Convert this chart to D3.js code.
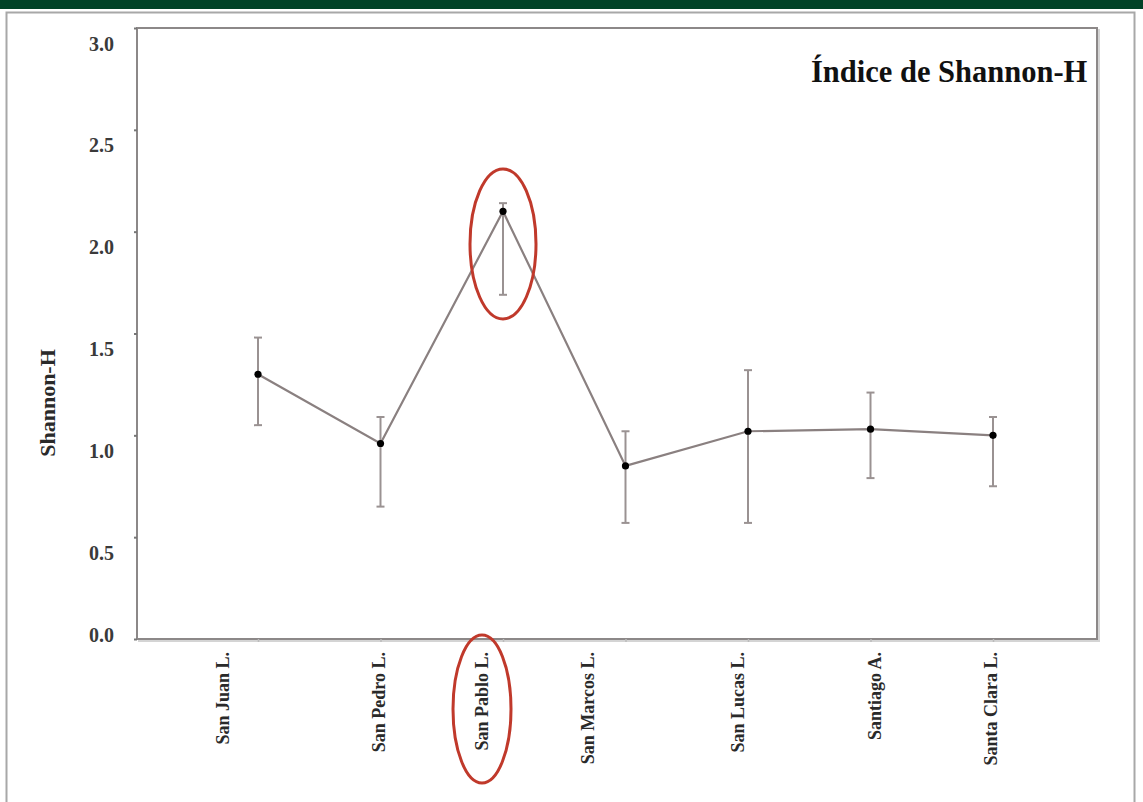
<!DOCTYPE html>
<html>
<head>
<meta charset="utf-8">
<script src="https://cdn.jsdelivr.net/npm/d3@7"></script>
<style>
  body { margin: 0; background: #fff; }
  svg { display: block; font-family: "Liberation Serif", "Times New Roman", serif; }
</style>
</head>
<body>
<div id="chart"></div>
<script>
// sites along the x axis
var sites = ["San Juan L.", "San Pedro L.", "San Pablo L.", "San Marcos L.", "San Lucas L.", "Santiago A.", "Santa Clara L."];
// Shannon-H mean and error bar ends
var meanH = [1.30, 0.96, 2.10, 0.85, 1.02, 1.03, 1.00];
var upperH = [1.48, 1.09, 2.14, 1.02, 1.32, 1.21, 1.09];
var lowerH = [1.05, 0.65, 1.69, 0.57, 0.57, 0.79, 0.75];
var yTicks = [0, 0.5, 1.0, 1.5, 2.0, 2.5, 3.0];
var highlight = "San Pablo L.";

// small shifts of the rotated labels, as in the scanned figure
var labelNudge = [-35, -2, -21, -38, -10, 4, -2];

var serif = '"Liberation Serif", "Times New Roman", serif';
var W = 1143, H = 802;
var box = { left: 137, top: 28, right: 1097, bottom: 639 };

var svg = d3.select("#chart").append("svg").attr("width", W).attr("height", H);

// green band on top and outer frame
svg.append("rect").attr("x", 0).attr("y", 0).attr("width", W).attr("height", 9).attr("fill", "#014227");
svg.append("rect").attr("x", 6.5).attr("y", 12.5).attr("width", 1128).attr("height", 800)
  .attr("fill", "none").attr("stroke", "#a8a8a8").attr("stroke-width", 2);

var x = d3.scalePoint().domain(sites).range([258, 993]);
var y = d3.scaleLinear().domain([0, 3]).range([box.bottom, box.top]);

// plot box with a light shadow
svg.append("rect").attr("x", box.left + 2).attr("y", box.top + 2)
  .attr("width", box.right - box.left).attr("height", box.bottom - box.top)
  .attr("fill", "none").attr("stroke", "#d4d4d4").attr("stroke-width", 2);
svg.append("rect").attr("x", box.left).attr("y", box.top)
  .attr("width", box.right - box.left).attr("height", box.bottom - box.top)
  .attr("fill", "#fff").attr("stroke", "#8c8888").attr("stroke-width", 2);

// y axis
var yAxis = svg.append("g")
  .attr("transform", "translate(" + box.left + ",0)")
  .call(d3.axisLeft(y).tickValues(yTicks).tickFormat(d3.format(".1f")).tickSize(3).tickPadding(20));
yAxis.attr("font-family", serif);
yAxis.select(".domain").remove();
yAxis.selectAll("line").attr("stroke", "#777").attr("stroke-width", 2);
yAxis.selectAll("text")
  .attr("dy", function (d) { return d == 0 ? "0.1em" : "1.1em"; })
  .style("font-size", "20px").style("font-weight", "bold").attr("fill", "#3a3a3a");

// x axis ticks + rotated labels
var xAxis = svg.append("g")
  .attr("transform", "translate(0," + box.bottom + ")")
  .call(d3.axisBottom(x).tickSize(3).tickFormat(""));
xAxis.select(".domain").remove();
xAxis.selectAll("line").attr("stroke", "#bbb").attr("stroke-width", 1.5);

svg.append("g").selectAll("text")
  .data(sites)
  .enter()
  .append("text")
  .attr("transform", function (d, i) { return "translate(" + (x(d) + labelNudge[i]) + ",652) rotate(-90)"; })
  .attr("text-anchor", "end")
  .attr("dominant-baseline", "central")
  .style("font-size", "18px").style("font-weight", "bold").attr("fill", "#2a2a2a")
  .text(function (d) { return d; });

// axis title and chart title
svg.append("text")
  .attr("transform", "translate(47,403) rotate(-90)")
  .attr("text-anchor", "middle").attr("dominant-baseline", "central")
  .style("font-size", "22px").style("font-weight", "bold").attr("fill", "#2a2a2a")
  .text("Shannon-H");

svg.append("text")
  .attr("x", 811).attr("y", 82)
  .style("font-size", "30.5px").style("font-weight", "bold").attr("fill", "#111")
  .text("Índice de Shannon-H");

var rows = sites.map(function (s, i) { return { site: s, m: meanH[i], hi: upperH[i], lo: lowerH[i] }; });

// error bars
var eb = svg.append("g").attr("stroke", "#9a9292").attr("stroke-width", 2);
eb.selectAll(".bar").data(rows).enter().append("line")
  .attr("x1", function (d) { return x(d.site); }).attr("x2", function (d) { return x(d.site); })
  .attr("y1", function (d) { return y(d.hi); }).attr("y2", function (d) { return y(d.lo); });
eb.selectAll(".capHi").data(rows).enter().append("line")
  .attr("x1", function (d) { return x(d.site) - 4; }).attr("x2", function (d) { return x(d.site) + 4; })
  .attr("y1", function (d) { return y(d.hi); }).attr("y2", function (d) { return y(d.hi); });
eb.selectAll(".capLo").data(rows).enter().append("line")
  .attr("x1", function (d) { return x(d.site) - 4; }).attr("x2", function (d) { return x(d.site) + 4; })
  .attr("y1", function (d) { return y(d.lo); }).attr("y2", function (d) { return y(d.lo); });

// mean line and dots
var line = d3.line().x(function (d) { return x(d.site); }).y(function (d) { return y(d.m); });
svg.append("path").datum(rows).attr("d", line)
  .attr("fill", "none").attr("stroke", "#8a8080").attr("stroke-width", 2.2);
svg.selectAll(".dot").data(rows).enter().append("circle")
  .attr("cx", function (d) { return x(d.site); }).attr("cy", function (d) { return y(d.m); })
  .attr("r", 3.6).attr("fill", "#000");

// red ellipses marking San Pablo
var hi = rows[sites.indexOf(highlight)];
svg.append("ellipse")
  .attr("cx", x(highlight)).attr("cy", (y(hi.hi) + y(hi.lo)) / 2 - 5)
  .attr("rx", 33).attr("ry", 75)
  .attr("fill", "none").attr("stroke", "#c0392b").attr("stroke-width", 3);
svg.append("ellipse")
  .attr("cx", x(highlight) + labelNudge[sites.indexOf(highlight)]).attr("cy", 709)
  .attr("rx", 29).attr("ry", 74)
  .attr("fill", "none").attr("stroke", "#c0392b").attr("stroke-width", 3);
</script>
</body>
</html>
